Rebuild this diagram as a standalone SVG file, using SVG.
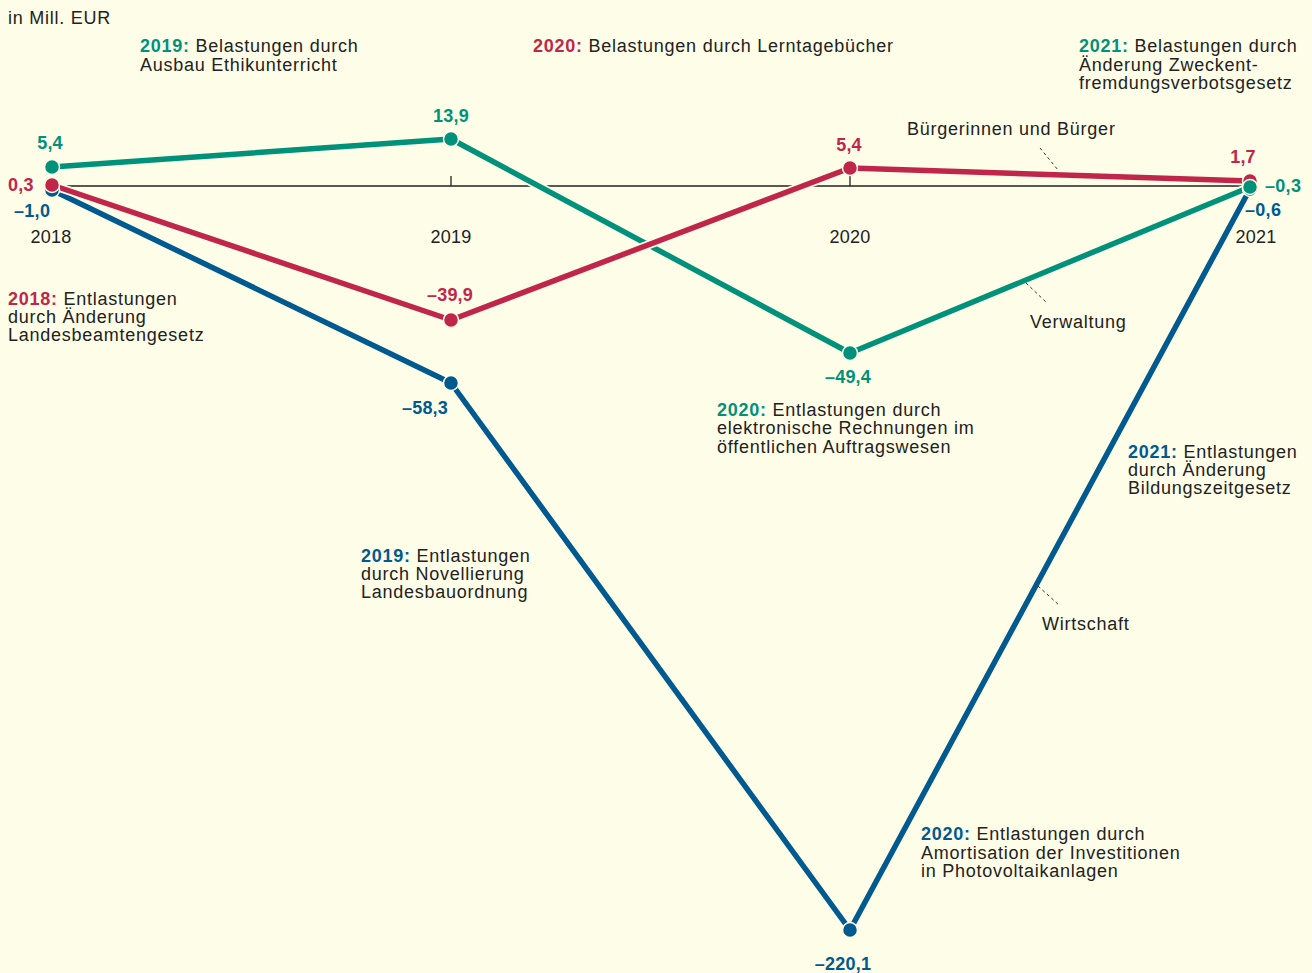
<svg xmlns="http://www.w3.org/2000/svg" width="1312" height="973" viewBox="0 0 1312 973">
<style>
text{font-family:"Liberation Sans",Arial,sans-serif;font-size:18px;letter-spacing:0.75px;fill:#222;}
.b{font-weight:bold;}
.t{fill:#00917A;}
.r{fill:#C0264A;}
.bl{fill:#005A8F;}
.v{font-weight:bold;font-size:18px;letter-spacing:0.3px;}
.yr{text-anchor:middle;letter-spacing:0.2px;}
.halo{fill:none;stroke:#FEFDE8;stroke-width:9;stroke-linejoin:round;}
.ln{fill:none;stroke-width:5.5;stroke-linejoin:round;}
.dot{stroke:#FEFDE8;stroke-width:1.5;}
.lead{stroke:#333;stroke-width:1;stroke-dasharray:3 3;fill:none;}
</style>
<rect width="1312" height="973" fill="#FEFDE8"/>
<g id="axis">
<line x1="52" y1="186" x2="1250" y2="186" stroke="#222" stroke-width="1.3"/>
<line x1="451" y1="176" x2="451" y2="186" stroke="#222" stroke-width="1.3"/>
<line x1="850" y1="176" x2="850" y2="186" stroke="#222" stroke-width="1.3"/>
<text x="51" y="243" class="yr">2018</text>
<text x="451" y="243" class="yr">2019</text>
<text x="850" y="243" class="yr">2020</text>
<text x="1256" y="243" class="yr">2021</text>
</g>
<g id="connectors">
<polyline class="halo" points="52,190 451,383 850,930 1250,189"/>
<polyline class="ln" stroke="#005A8F" points="52,190 451,383 850,930 1250,189"/>
<polyline class="halo" points="52,167 451,139 850,353 1250,187"/>
<polyline class="ln" stroke="#00917A" points="52,167 451,139 850,353 1250,187"/>
<polyline class="halo" points="52,185 451,320 850,168 1250,181"/>
<polyline class="ln" stroke="#C0264A" points="52,185 451,320 850,168 1250,181"/>
<line class="lead" x1="1040" y1="148" x2="1058" y2="170"/>
<line class="lead" x1="1026" y1="283" x2="1047" y2="303"/>
<line class="lead" x1="1038" y1="586" x2="1060" y2="606"/>
</g>
<g id="dots">
<circle class="dot" cx="52" cy="190" r="7.5" fill="#005A8F"/>
<circle class="dot" cx="451" cy="383" r="7.5" fill="#005A8F"/>
<circle class="dot" cx="850" cy="930" r="7.5" fill="#005A8F"/>
<circle class="dot" cx="1250" cy="189" r="7.5" fill="#005A8F"/>
<circle class="dot" cx="52" cy="185" r="7.5" fill="#C0264A"/>
<circle class="dot" cx="451" cy="320" r="7.5" fill="#C0264A"/>
<circle class="dot" cx="850" cy="168" r="7.5" fill="#C0264A"/>
<circle class="dot" cx="1250" cy="181" r="7.5" fill="#C0264A"/>
<circle class="dot" cx="52" cy="167" r="7.5" fill="#00917A"/>
<circle class="dot" cx="451" cy="139" r="7.5" fill="#00917A"/>
<circle class="dot" cx="850" cy="353" r="7.5" fill="#00917A"/>
<circle class="dot" cx="1250" cy="187" r="7.5" fill="#00917A"/>
</g>
<g id="values">
<text x="50" y="149" class="v t yr">5,4</text>
<text x="8" y="191" class="v r">0,3</text>
<text x="14" y="217" class="v bl">–1,0</text>
<text x="451" y="122" class="v t yr">13,9</text>
<text x="450" y="301" class="v r yr">–39,9</text>
<text x="425" y="414" class="v bl yr">–58,3</text>
<text x="849" y="151" class="v r yr">5,4</text>
<text x="848" y="383" class="v t yr">–49,4</text>
<text x="1243" y="163" class="v r yr">1,7</text>
<text x="1265" y="192" class="v t">–0,3</text>
<text x="1245" y="216" class="v bl">–0,6</text>
<text x="843" y="970" class="v bl yr">–220,1</text>
</g>
<g id="title"><text x="8" y="24">in Mill. EUR</text></g>
<g id="note-2019-bel"><text x="140" y="52"><tspan class="b t">2019:</tspan> Belastungen durch</text><text x="140" y="71">Ausbau Ethikunterricht</text></g>
<g id="note-2020-bel"><text x="533" y="52"><tspan class="b r">2020:</tspan> Belastungen durch Lerntagebücher</text></g>
<g id="note-2021-bel"><text x="1079" y="52"><tspan class="b t">2021:</tspan> Belastungen durch</text><text x="1079" y="71">Änderung Zweckent-</text><text x="1079" y="89">fremdungsverbotsgesetz</text></g>
<g id="label-buerger"><text x="907" y="135">Bürgerinnen und Bürger</text></g>
<g id="label-verwaltung"><text x="1030" y="328">Verwaltung</text></g>
<g id="label-wirtschaft"><text x="1042" y="630">Wirtschaft</text></g>
<g id="note-2018-ent"><text x="8" y="305"><tspan class="b r">2018:</tspan> Entlastungen</text><text x="8" y="323">durch Änderung</text><text x="8" y="341">Landesbeamtengesetz</text></g>
<g id="note-2020-ent-t"><text x="717" y="416"><tspan class="b t">2020:</tspan> Entlastungen durch</text><text x="717" y="434">elektronische Rechnungen im</text><text x="717" y="453">öffentlichen Auftragswesen</text></g>
<g id="note-2021-ent"><text x="1128" y="458"><tspan class="b bl">2021:</tspan> Entlastungen</text><text x="1128" y="476">durch Änderung</text><text x="1128" y="494">Bildungszeitgesetz</text></g>
<g id="note-2019-ent"><text x="361" y="562"><tspan class="b bl">2019:</tspan> Entlastungen</text><text x="361" y="580">durch Novellierung</text><text x="361" y="598">Landesbauordnung</text></g>
<g id="note-2020-ent-b"><text x="921" y="840"><tspan class="b bl">2020:</tspan> Entlastungen durch</text><text x="921" y="859">Amortisation der Investitionen</text><text x="921" y="877">in Photovoltaikanlagen</text></g>
</svg>
